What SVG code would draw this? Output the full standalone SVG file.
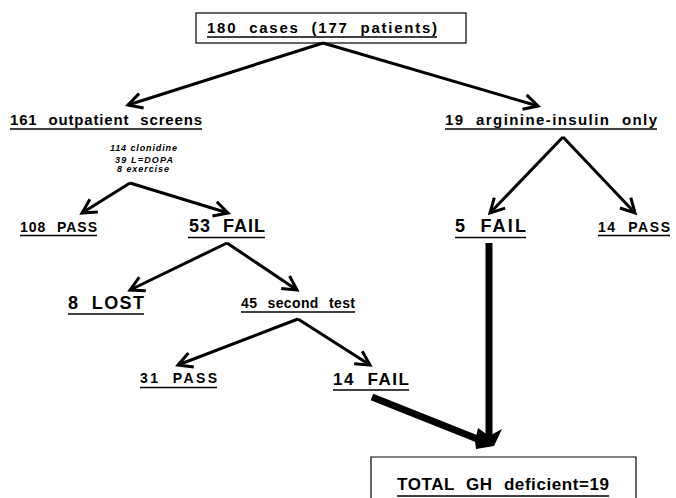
<svg xmlns="http://www.w3.org/2000/svg" width="676" height="498" viewBox="0 0 676 498">
<defs>
<style>
.t{font-family:"Liberation Sans",Arial,sans-serif;font-weight:bold;fill:#000;word-spacing:6px}
.s{font-family:"Liberation Sans",Arial,sans-serif;font-weight:bold;font-style:italic;font-size:9px;fill:#000}
.u{stroke:#000;stroke-width:1.6;fill:none}
.a{stroke:#000;stroke-width:3;fill:none;marker-end:url(#h)}
.b{fill:none;stroke:#000;stroke-width:1.2}
.k{stroke:#000;stroke-width:7;fill:none}
</style>
<marker id="h" markerUnits="userSpaceOnUse" markerWidth="20" markerHeight="20" refX="0" refY="0" viewBox="-16 -10 20 20" orient="auto" overflow="visible">
<path d="M-14,-7.5 L0,0 L-14,7.5" fill="none" stroke="#000" stroke-width="3" stroke-linejoin="miter"/>
</marker>
</defs>
<rect width="676" height="498" fill="#fff"/>
<g id="connectors">
<line class="a" x1="323" y1="43" x2="128" y2="105"/>
<line class="a" x1="323" y1="43" x2="538" y2="106"/>
<line class="a" x1="130" y1="183" x2="82" y2="213"/>
<line class="a" x1="130" y1="183" x2="228" y2="213"/>
<line class="a" x1="563" y1="137" x2="490" y2="213"/>
<line class="a" x1="563" y1="137" x2="635" y2="213"/>
<line class="a" x1="227" y1="243" x2="130" y2="290"/>
<line class="a" x1="227" y1="243" x2="297" y2="290"/>
<line class="a" x1="298" y1="319" x2="178" y2="365"/>
<line class="a" x1="298" y1="319" x2="370" y2="365"/>
<line class="k" x1="489" y1="243" x2="489" y2="440"/>
<line class="k" x1="372" y1="397" x2="480" y2="440"/>
<polygon points="478,428 489,436 502,429 494,446 476,449 475,441" fill="#000"/>
</g>
<g id="n-top">
<rect class="b" x="196" y="13" width="270" height="30"/>
<text class="t" x="207" y="32.5" font-size="15" textLength="230">180 cases (177 patients)</text>
<line class="u" x1="207" y1="37" x2="437" y2="37"/>
</g>
<g id="n-outpatient">
<text class="t" x="10" y="125" font-size="15" textLength="192">161 outpatient screens</text>
<line class="u" x1="10" y1="129" x2="202" y2="129"/>
<text class="s" x="110" y="150.5" textLength="67">114 clonidine</text>
<text class="s" x="115" y="162.5" textLength="58">39 L=DOPA</text>
<text class="s" x="117" y="172" textLength="52">8 exercise</text>
</g>
<g id="n-arginine">
<text class="t" x="445" y="125" font-size="15" textLength="212">19 arginine-insulin only</text>
<line class="u" x1="445" y1="129" x2="657" y2="129"/>
</g>
<g id="n-108pass">
<text class="t" x="20" y="232" font-size="14" textLength="77">108 PASS</text>
<line class="u" x1="20" y1="235.5" x2="97" y2="235.5"/>
</g>
<g id="n-53fail">
<text class="t" x="189" y="232" font-size="18" textLength="76">53 FAIL</text>
<line class="u" x1="188" y1="237.5" x2="265" y2="237.5"/>
</g>
<g id="n-5fail">
<text class="t" x="455" y="232" font-size="18" textLength="71">5 FAIL</text>
<line class="u" x1="455" y1="237.5" x2="526" y2="237.5"/>
</g>
<g id="n-14pass">
<text class="t" x="598" y="232" font-size="14" textLength="72">14 PASS</text>
<line class="u" x1="598" y1="235.5" x2="670" y2="235.5"/>
</g>
<g id="n-8lost">
<text class="t" x="68" y="309" font-size="18" textLength="76">8 LOST</text>
<line class="u" x1="68" y1="314" x2="144" y2="314"/>
</g>
<g id="n-45second">
<text class="t" x="241" y="308" font-size="14" textLength="114">45 second test</text>
<line class="u" x1="241" y1="312" x2="355" y2="312"/>
</g>
<g id="n-31pass">
<text class="t" x="140" y="383" font-size="14" textLength="77">31 PASS</text>
<line class="u" x1="140" y1="387.5" x2="217" y2="387.5"/>
</g>
<g id="n-14fail">
<text class="t" x="333" y="385" font-size="17" textLength="76">14 FAIL</text>
<line class="u" x1="333" y1="390" x2="409" y2="390"/>
</g>
<g id="n-total">
<path class="b" d="M371,499 V457 H636 V499"/>
<text class="t" x="397" y="490" font-size="17" textLength="212">TOTAL GH deficient=19</text>
<line class="u" x1="397" y1="496" x2="609" y2="496"/>
</g>
</svg>
